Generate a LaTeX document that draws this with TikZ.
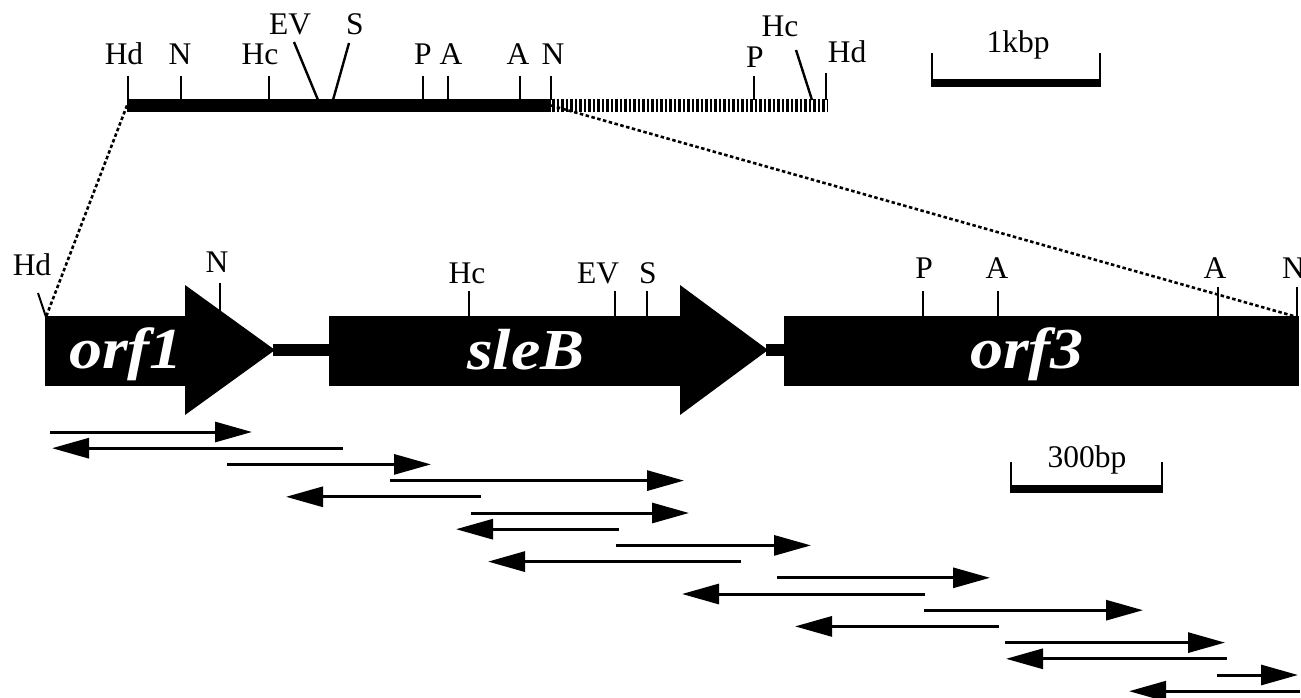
\documentclass[tikz,border=0pt]{standalone}
\usepackage{fontspec}
\setmainfont{Liberation Serif}
\newfontfamily\genefont[FakeStretch=1.14]{Liberation Serif}
\usetikzlibrary{arrows.meta}
\begin{document}
\begin{tikzpicture}[x=1pt,y=-1pt,
  tickln/.style={line width=2.4pt},
  lbl/.style={font=\fontsize{31.5}{33}\selectfont, inner sep=0pt, anchor=base},
  genelbl/.style={text=white, font=\genefont\bfseries\itshape\fontsize{58}{60}\selectfont, inner sep=0pt, anchor=base},
  dotln/.style={line width=2.6pt, dash pattern=on 3.5pt off 2.5pt},
  readarrow/.style={line width=3pt, -{Triangle[length=37pt,width=20pt]}},
  scalebar/.style={line width=2.6pt}
]
\useasboundingbox (0,0) rectangle (1301,698);
\fill[white] (0,0) rectangle (1301,698);

% ---------------- top map ----------------
\coordinate (tL) at (127,105.5);
\coordinate (tN) at (551,105.5);
\fill[black] (127,99) rectangle (551,112);
\draw[line width=13pt, dash pattern=on 2.8pt off 1.7pt] (552,105.5) -- (828,105.5);
% ticks
\foreach \x in {128,181,269,423,448,520,551} \draw[tickln] (\x,76) -- (\x,100);
\draw[tickln] (294,42) -- (318,100);
\draw[tickln] (349,43) -- (333,100);
\draw[tickln] (754,76) -- (754,100);
\draw[tickln] (796,50) -- (812,100);
\draw[tickln] (826,73) -- (826,100);
% labels
\node[lbl] (tHd) at (124,65) {Hd};
\node[lbl] (tN1) at (180,65) {N};
\node[lbl] (tHc) at (260,65) {Hc};
\node[lbl] (tEV) at (290,35) {EV};
\node[lbl] (tS)  at (355,35) {S};
\node[lbl] (tP)  at (423,65) {P};
\node[lbl] (tA1) at (451,65) {A};
\node[lbl] (tA2) at (518,65) {A};
\node[lbl] (tN2) at (553,65) {N};
\node[lbl] (tP2) at (755,68) {P};
\node[lbl] (tHc2) at (780,37) {Hc};
\node[lbl] (tHd2) at (847,63) {Hd};
% 1kbp scale
\draw[scalebar] (932,53) -- (932,87);
\draw[scalebar] (1100,53) -- (1100,87);
\draw[line width=8pt] (931,83) -- (1101,83);
\node[lbl] (kbp) at (1018,53) {1kbp};

% ---------------- gene map ----------------
\coordinate (gL) at (46,317);
\coordinate (gR) at (1297,317);
\fill[black] (45,316) rectangle (186,386);
\fill[black] (185,285) -- (275,350) -- (185,415) -- cycle;
\fill[black] (273,344) rectangle (331,356);
\fill[black] (329,316) rectangle (681,386);
\fill[black] (680,285) -- (768,350) -- (680,415) -- cycle;
\fill[black] (766,344) rectangle (786,356);
\fill[black] (784,316) rectangle (1299,386);
\node[genelbl] (orf1) at (126,368) {orf1};
\node[genelbl] (sleB) at (526,369) {sleB};
\node[genelbl] (orf3) at (1027,368) {orf3};
% ticks
\draw[line width=2pt] (38,293) -- (46,317);
\draw[line width=2pt] (220,283) -- (220,311);
\foreach \x in {469,615,647,923,998} \draw[line width=2pt] (\x,291) -- (\x,317);
\foreach \x in {1218,1297} \draw[line width=2pt] (\x,287) -- (\x,317);
% labels
\node[lbl] (gHd) at (32,275) {Hd};
\node[lbl] (gN)  at (217,272) {N};
\node[lbl] (gHc) at (467,283) {Hc};
\node[lbl] (gEV) at (598,283) {EV};
\node[lbl] (gS)  at (648,283) {S};
\node[lbl] (gP)  at (924,278) {P};
\node[lbl] (gA1) at (997,278) {A};
\node[lbl] (gA2) at (1215,278) {A};
\node[lbl, anchor=base west] (gN2) at (1282,278) {N};

% dotted zoom lines
\draw[dotln] (tL) -- (gL);
\draw[dotln] (tN) -- (gR);

% 300bp scale
\draw[scalebar] (1011,462) -- (1011,493);
\draw[scalebar] (1162,462) -- (1162,493);
\draw[line width=8pt] (1010,489) -- (1163,489);
\node[lbl] (bp) at (1087,467) {300bp};

% ---------------- sequencing reads ----------------
\foreach \i/\a/\b in {1/50/252, 2/343/52, 3/227/431, 4/390/684, 5/481/286,
  6/471/689, 7/619/456, 8/616/811, 9/741/488, 10/777/990, 11/925/682,
  12/924/1143, 13/999/795, 14/1005/1225, 15/1227/1006, 16/1217/1298, 17/1300/1129} {
  \pgfmathsetmacro{\yy}{432+(\i-1)*16.2}
  \coordinate (r\i s) at (\a,\yy);
  \coordinate (r\i e) at (\b,\yy);
  \draw[readarrow] (r\i s) -- (r\i e);
}
\end{tikzpicture}
\end{document}
